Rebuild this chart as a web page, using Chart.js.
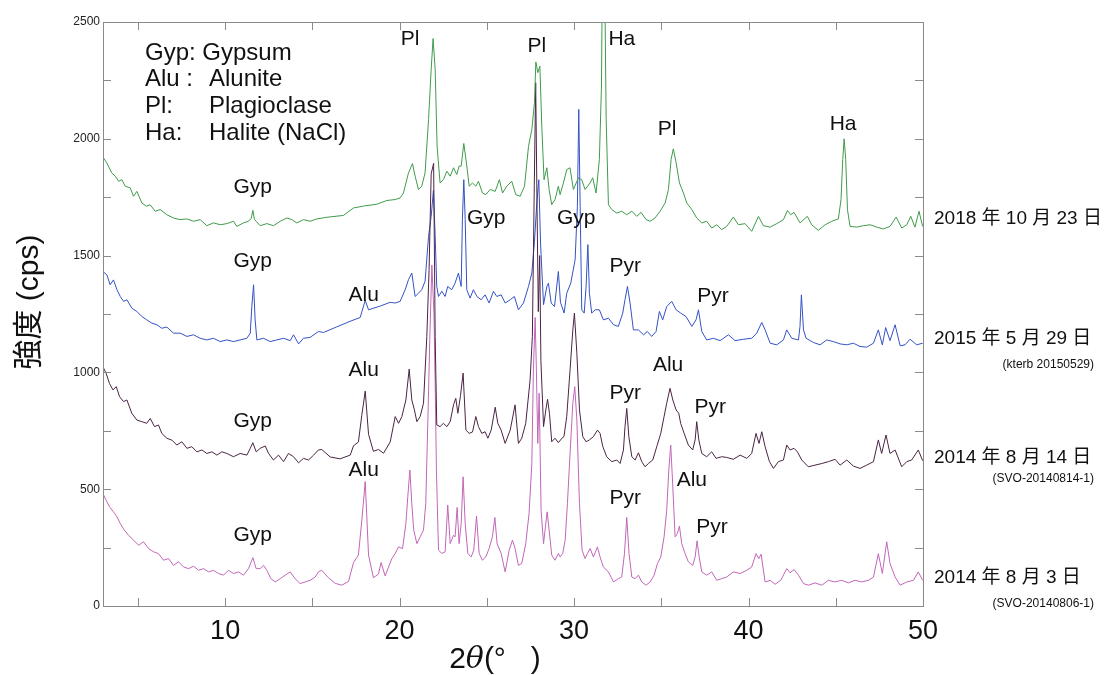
<!DOCTYPE html>
<html>
<head>
<meta charset="utf-8">
<script src="https://cdn.jsdelivr.net/npm/chart.js@4.4.1/dist/chart.umd.min.js"></script>
<style>
  html, body { margin: 0; padding: 0; background: #fff; }
  #wrap { width: 1116px; height: 675px; }
</style>
</head>
<body>
<div id="wrap"><canvas id="xrd" width="1116" height="675"></canvas></div>
<script>
  // 2018-10-23 (green)
  const x2018 = [3.03, 3.22, 3.5, 3.7, 3.9, 4.08, 4.27, 4.56, 4.75, 4.94, 5.23, 5.5, 5.7, 5.99, 6.28, 6.66, 7.04, 7.42, 7.8, 8.19,
    8.57, 8.95, 9.33, 9.72, 10.1, 10.48, 10.67, 11.05, 11.34, 11.5, 11.59, 11.68, 11.78, 12.01, 12.39, 12.77, 13.16, 13.54, 13.82, 14.11,
    14.49, 14.87, 15.26, 15.83, 16.78, 17.36, 17.93, 18.7, 19.27, 19.75, 20.03, 20.22, 20.51, 20.74, 20.89, 21.08, 21.27, 21.46, 21.66, 21.81,
    21.92, 22.04, 22.15, 22.32, 22.51, 22.71, 22.9, 23.09, 23.28, 23.41, 23.53, 23.68, 23.83, 23.99, 24.18, 24.37, 24.52, 24.75, 24.94, 25.19,
    25.48, 25.72, 25.9, 26.14, 26.43, 26.66, 26.91, 27.16, 27.39, 27.58, 27.73, 27.81, 27.92, 28.04, 28.15, 28.28, 28.44, 28.57, 28.72, 28.91,
    29.1, 29.2, 29.39, 29.58, 29.77, 29.96, 30.25, 30.44, 30.63, 30.92, 31.07, 31.26, 31.45, 31.57, 31.65, 31.72, 31.84, 31.97, 32.16, 32.45,
    32.73, 33.02, 33.31, 33.59, 33.84, 34.13, 34.36, 34.64, 34.93, 35.22, 35.41, 35.56, 35.69, 35.85, 36.04, 36.27, 36.46, 36.75, 37.03, 37.32,
    37.6, 37.89, 38.18, 38.46, 38.75, 39.13, 39.42, 39.8, 40.18, 40.57, 40.85, 41.24, 41.62, 42.0, 42.23, 42.42, 42.61, 42.95, 43.37, 43.62,
    44.0, 44.39, 44.77, 45.15, 45.3, 45.4, 45.48, 45.57, 45.67, 45.82, 46.2, 46.58, 46.97, 47.35, 47.73, 48.11, 48.46, 48.78, 49.07, 49.3,
    49.54, 49.77, 49.98];
  const y2018 = [1918, 1897, 1854, 1840, 1818, 1825, 1797, 1790, 1754, 1775, 1725, 1711, 1718, 1690, 1697, 1675, 1661, 1654, 1657, 1647,
    1654, 1628, 1640, 1632, 1637, 1647, 1625, 1640, 1647, 1660, 1694, 1655, 1647, 1628, 1637, 1628, 1647, 1661, 1654, 1640,
    1654, 1647, 1657, 1664, 1672, 1704, 1712, 1720, 1736, 1740, 1747, 1768, 1854, 1894, 1840, 1783, 1797, 1854, 2083, 2297,
    2429, 2297, 1968, 1811, 1825, 1861, 1840, 1876, 1847, 1883, 1883, 1980, 1897, 1797, 1811, 1797, 1818, 1768, 1761, 1783,
    1775, 1825, 1768, 1797, 1818, 1761, 1754, 1797, 1968, 2040, 2154, 2329, 2283, 2311, 2054, 1825, 1876, 1783, 1718, 1740,
    1797, 1761, 1811, 1868, 1876, 1783, 1833, 1825, 1783, 1811, 1833, 1768, 1911, 2226, 2950, 2950, 2083, 1718, 1697, 1682,
    1690, 1675, 1690, 1668, 1685, 1654, 1647, 1661, 1690, 1725, 1783, 1911, 1957, 1897, 1811, 1768, 1725, 1697, 1661, 1640,
    1647, 1618, 1632, 1611, 1625, 1665, 1632, 1637, 1604, 1668, 1628, 1622, 1637, 1654, 1693, 1675, 1685, 1640, 1668, 1632,
    1608, 1632, 1647, 1657, 1740, 1911, 2000, 1911, 1697, 1625, 1622, 1628, 1632, 1622, 1614, 1625, 1665, 1618, 1632, 1668,
    1622, 1690, 1625];

  // 2015-05-29 (blue)
  const x2015 = [2.99, 3.22, 3.41, 3.6, 3.8, 3.99, 4.18, 4.37, 4.65, 4.94, 5.23, 5.51, 5.8, 6.09, 6.37, 6.66, 7.04, 7.42, 7.81, 8.19,
    8.57, 8.95, 9.33, 9.72, 10.1, 10.48, 10.86, 11.25, 11.44, 11.53, 11.63, 11.72, 11.82, 12.2, 12.58, 12.96, 13.35, 13.73, 13.92, 14.21,
    14.49, 14.87, 15.35, 15.64, 16.4, 17.17, 17.74, 18.03, 18.22, 18.89, 19.46, 19.75, 20.03, 20.32, 20.51, 20.7, 20.89, 21.08, 21.27, 21.46,
    21.66, 21.81, 21.94, 22.04, 22.13, 22.23, 22.42, 22.61, 22.76, 22.99, 23.18, 23.37, 23.53, 23.6, 23.68, 23.76, 23.85, 24.04, 24.23, 24.43,
    24.67, 24.9, 25.13, 25.38, 25.57, 25.82, 26.05, 26.34, 26.58, 26.81, 27.1, 27.39, 27.58, 27.73, 27.86, 27.98, 28.08, 28.25, 28.44, 28.53,
    28.69, 28.88, 29.1, 29.22, 29.43, 29.58, 29.81, 30.06, 30.19, 30.27, 30.35, 30.44, 30.58, 30.69, 30.79, 30.88, 31.01, 31.21, 31.45, 31.68,
    31.97, 32.26, 32.54, 32.79, 32.92, 33.06, 33.21, 33.4, 33.69, 33.98, 34.2, 34.45, 34.7, 34.89, 35.08, 35.31, 35.6, 35.85, 36.11, 36.42,
    36.75, 36.99, 37.13, 37.32, 37.6, 37.99, 38.37, 38.85, 39.23, 39.71, 40.18, 40.47, 40.76, 40.95, 41.24, 41.62, 42.0, 42.19, 42.48, 42.86,
    42.95, 43.03, 43.15, 43.3, 43.72, 44.1, 44.48, 44.86, 45.25, 45.63, 46.01, 46.39, 46.77, 47.16, 47.44, 47.67, 47.86, 48.11, 48.4, 48.69,
    48.97, 49.26, 49.64, 49.98];
  const y2015 = [1432, 1418, 1375, 1396, 1354, 1325, 1304, 1311, 1275, 1261, 1239, 1225, 1211, 1204, 1189, 1194, 1168, 1168, 1154, 1161,
    1146, 1139, 1146, 1132, 1139, 1132, 1139, 1146, 1168, 1282, 1375, 1225, 1139, 1146, 1132, 1139, 1146, 1136, 1161, 1122,
    1146, 1150, 1175, 1171, 1195, 1219, 1235, 1308, 1268, 1284, 1300, 1297, 1304, 1354, 1397, 1425, 1325, 1339, 1354, 1390,
    1582, 1668, 1780, 1582, 1368, 1325, 1347, 1325, 1368, 1354, 1382, 1425, 1368, 1654, 1825, 1654, 1354, 1318, 1354, 1325,
    1311, 1332, 1297, 1347, 1325, 1332, 1297, 1311, 1325, 1268, 1297, 1368, 1425, 1560, 1720, 1825, 1550, 1290, 1368, 1382,
    1297, 1282, 1432, 1300, 1254, 1339, 1382, 1482, 1711, 2126, 1711, 1268, 1254, 1368, 1547, 1339, 1254, 1268, 1268, 1225,
    1232, 1204, 1197, 1254, 1311, 1368, 1297, 1182, 1182, 1161, 1175, 1154, 1175, 1261, 1225, 1282, 1304, 1268, 1254, 1239,
    1197, 1225, 1268, 1175, 1139, 1146, 1136, 1161, 1136, 1142, 1146, 1168, 1214, 1182, 1125, 1118, 1139, 1182, 1146, 1139,
    1197, 1332, 1182, 1146, 1128, 1118, 1139, 1132, 1122, 1118, 1125, 1111, 1108, 1125, 1182, 1118, 1192, 1136, 1204, 1114,
    1118, 1142, 1118, 1125];

  // 2014-08-14 (dark purple)
  const x20140814 = [2.99, 3.18, 3.37, 3.57, 3.76, 3.95, 4.18, 4.37, 4.65, 4.94, 5.23, 5.51, 5.71, 5.95, 6.18, 6.37, 6.66, 6.95, 7.23, 7.52,
    7.81, 8.09, 8.38, 8.67, 8.95, 9.24, 9.53, 9.81, 10.1, 10.48, 10.86, 11.25, 11.44, 11.59, 11.78, 12.01, 12.3, 12.49, 12.77, 13.06,
    13.35, 13.63, 13.92, 14.21, 14.49, 14.78, 15.07, 15.35, 15.54, 16.02, 16.59, 17.17, 17.36, 17.64, 17.83, 18.03, 18.22, 18.5, 18.79, 19.08,
    19.46, 19.75, 19.94, 20.13, 20.36, 20.55, 20.7, 20.85, 20.99, 21.18, 21.37, 21.56, 21.69, 21.81, 21.95, 22.04, 22.13, 22.32, 22.51, 22.71,
    22.9, 23.09, 23.22, 23.34, 23.49, 23.64, 23.8, 23.99, 24.18, 24.37, 24.52, 24.71, 24.9, 25.06, 25.25, 25.48, 25.63, 25.82, 26.05, 26.34,
    26.62, 26.81, 27.0, 27.23, 27.48, 27.61, 27.72, 27.8, 27.88, 27.95, 28.03, 28.1, 28.25, 28.38, 28.48, 28.59, 28.72, 28.91, 29.1, 29.3,
    29.42, 29.58, 29.77, 29.93, 30.02, 30.16, 30.31, 30.5, 30.69, 30.88, 31.11, 31.34, 31.49, 31.65, 31.87, 32.16, 32.45, 32.64, 32.83, 32.92,
    33.02, 33.14, 33.31, 33.5, 33.69, 33.88, 34.07, 34.26, 34.51, 34.74, 34.97, 35.16, 35.31, 35.5, 35.66, 35.85, 36.0, 36.11, 36.31, 36.55,
    36.8, 36.94, 37.03, 37.15, 37.32, 37.6, 37.89, 38.14, 38.46, 38.75, 39.13, 39.52, 39.9, 40.18, 40.43, 40.6, 40.76, 40.95, 41.2, 41.43,
    41.71, 42.0, 42.19, 42.38, 42.61, 42.8, 43.05, 43.43, 43.81, 44.2, 44.58, 44.96, 45.25, 45.63, 46.01, 46.39, 46.77, 47.16, 47.44, 47.63,
    47.88, 48.11, 48.4, 48.78, 49.07, 49.35, 49.73, 49.98];
  const y20140814 = [1025, 996, 953, 925, 939, 896, 875, 882, 825, 796, 789, 782, 803, 768, 775, 739, 718, 710, 689, 703,
    675, 682, 660, 668, 653, 660, 646, 660, 653, 639, 653, 646, 675, 699, 660, 675, 685, 653, 625, 646,
    618, 653, 639, 613, 632, 625, 646, 668, 670, 638, 630, 646, 686, 702, 815, 920, 735, 662, 670, 654,
    702, 811, 782, 811, 882, 1014, 882, 839, 789, 811, 868, 1154, 1440, 1850, 1895, 1154, 775, 768, 782, 768,
    789, 861, 889, 825, 900, 997, 753, 739, 745, 811, 768, 739, 746, 718, 753, 851, 782, 753, 696, 753,
    861, 696, 718, 782, 968, 1154, 1800, 2240, 1700, 1260, 1500, 1050, 768, 839, 885, 825, 703, 718, 699, 718,
    725, 811, 1011, 1182, 1254, 1082, 839, 725, 703, 711, 725, 753, 739, 682, 639, 618, 625, 610, 668, 768,
    846, 725, 639, 625, 656, 618, 596, 610, 625, 682, 739, 811, 868, 932, 882, 839, 825, 782, 739, 689,
    668, 711, 789, 711, 653, 639, 660, 632, 639, 636, 628, 646, 632, 653, 739, 696, 746, 682, 618, 589,
    618, 625, 689, 668, 675, 660, 625, 596, 603, 610, 618, 628, 603, 625, 599, 589, 603, 618, 711, 653,
    732, 653, 668, 596, 618, 625, 668, 622];

  // 2014-08-03 (magenta)
  const x20140803 = [2.99, 3.18, 3.37, 3.6, 3.8, 3.99, 4.22, 4.46, 4.75, 5.04, 5.32, 5.61, 5.9, 6.18, 6.47, 6.76, 7.04, 7.33, 7.62, 7.9,
    8.19, 8.48, 8.76, 9.05, 9.33, 9.62, 9.91, 10.19, 10.48, 10.77, 11.05, 11.34, 11.59, 11.78, 12.01, 12.2, 12.39, 12.62, 12.87, 13.16,
    13.44, 13.73, 14.01, 14.3, 14.59, 14.87, 15.16, 15.35, 15.54, 15.92, 16.31, 16.69, 17.07, 17.36, 17.64, 17.83, 18.03, 18.22, 18.5, 18.79,
    18.94, 19.17, 19.55, 19.75, 19.94, 20.17, 20.36, 20.47, 20.59, 20.7, 20.81, 20.99, 21.18, 21.37, 21.5, 21.62, 21.73, 21.85, 21.97, 22.05,
    22.11, 22.23, 22.42, 22.61, 22.76, 22.9, 23.09, 23.18, 23.3, 23.41, 23.53, 23.64, 23.76, 23.91, 24.1, 24.25, 24.41, 24.56, 24.75, 24.94,
    25.13, 25.32, 25.46, 25.59, 25.82, 26.05, 26.28, 26.47, 26.62, 26.81, 27.0, 27.23, 27.42, 27.58, 27.67, 27.77, 27.84, 27.92, 28.0, 28.11,
    28.25, 28.36, 28.46, 28.57, 28.72, 28.91, 29.1, 29.2, 29.35, 29.49, 29.62, 29.77, 29.93, 30.04, 30.16, 30.31, 30.46, 30.63, 30.77, 30.92,
    31.11, 31.34, 31.49, 31.68, 31.97, 32.26, 32.54, 32.73, 32.89, 33.02, 33.15, 33.31, 33.5, 33.69, 33.88, 34.13, 34.36, 34.59, 34.78, 34.97,
    35.16, 35.31, 35.43, 35.54, 35.66, 35.79, 35.92, 36.04, 36.17, 36.36, 36.55, 36.8, 36.94, 37.05, 37.17, 37.32, 37.6, 37.89, 38.18, 38.46,
    38.75, 39.13, 39.52, 39.9, 40.18, 40.43, 40.59, 40.72, 40.95, 41.24, 41.52, 41.85, 42.19, 42.38, 42.61, 42.86, 43.15, 43.43, 43.81, 44.2,
    44.58, 44.96, 45.34, 45.72, 46.11, 46.49, 46.87, 47.16, 47.44, 47.67, 47.92, 48.11, 48.4, 48.69, 49.07, 49.45, 49.73, 49.98];
  const y20140803 = [482, 453, 425, 403, 382, 353, 325, 303, 282, 260, 275, 246, 232, 224, 196, 203, 174, 189, 167, 160,
    170, 153, 160, 146, 153, 139, 132, 153, 139, 146, 132, 160, 207, 160, 160, 174, 153, 117, 103, 117,
    132, 146, 117, 96, 103, 110, 124, 146, 153, 121, 97, 89, 105, 186, 218, 363, 533, 218, 121, 137,
    186, 129, 202, 225, 253, 246, 353, 468, 582, 439, 325, 267, 296, 325, 439, 796, 1139, 1460, 1250, 900,
    582, 239, 225, 232, 432, 267, 303, 296, 422, 267, 353, 553, 353, 225, 210, 239, 385, 225, 196, 210,
    246, 296, 379, 267, 225, 146, 239, 282, 246, 174, 182, 267, 396, 610, 1011, 1235, 1011, 696, 911, 410,
    267, 339, 403, 325, 218, 196, 225, 210, 225, 282, 439, 653, 868, 939, 796, 439, 239, 203, 225, 246,
    210, 253, 210, 167, 146, 103, 117, 124, 225, 379, 225, 124, 117, 132, 103, 89, 103, 132, 182, 210,
    296, 410, 582, 689, 510, 296, 310, 342, 267, 225, 189, 174, 210, 279, 210, 146, 132, 146, 110, 117,
    124, 146, 139, 153, 167, 224, 203, 222, 103, 110, 93, 110, 160, 142, 156, 132, 96, 89, 99, 89,
    110, 103, 110, 99, 110, 103, 110, 124, 224, 139, 275, 182, 124, 89, 103, 110, 146, 110];

  const seriesColors = ['#3f9b4a', '#4a2443', '#3452c4', '#c266b8'];

  // peak labels, anchored in data units
  const peakText = ['Gyp', 'Pl', 'Pl', 'Ha', 'Pl', 'Ha',
    'Gyp', 'Alu', 'Gyp', 'Gyp', 'Pyr', 'Pyr',
    'Gyp', 'Alu', 'Pyr', 'Alu', 'Pyr',
    'Gyp', 'Alu', 'Pyr', 'Alu', 'Pyr'];
  const peakX = [11.58, 20.6, 27.87, 32.74, 35.33, 45.42,
    11.58, 17.94, 24.96, 30.12, 32.93, 37.97,
    11.58, 17.94, 32.93, 35.39, 37.8,
    11.58, 17.94, 32.93, 36.75, 37.9];
  const peakY = [1791, 2426, 2397, 2426, 2040, 2061,
    1474, 1332, 1658, 1658, 1453, 1328,
    789, 1011, 912, 1032, 852,
    303, 582, 462, 539, 337];

  const keyAbbr = ['Gyp: Gypsum', 'Alu :', 'Pl:', 'Ha:'];
  const keyName = ['', 'Alunite', 'Plagioclase', 'Halite (NaCl)'];

  const dateLabels = ['2018 年 10 月 23 日', '2015 年 5 月 29 日', '2014 年 8 月 14 日', '2014 年 8 月 3 日'];
  const dateLevel = [1658, 1144, 633, 123];
  const sampleLabels = ['', '(kterb 20150529)', '(SVO-20140814-1)', '(SVO-20140806-1)'];
  const sampleLevel = [0, 1032, 543, 12];

  const FONT = '"Liberation Sans", Arial, "Noto Sans CJK JP", sans-serif';
  const JP_FONT = '"Liberation Sans", Arial, "Noto Sans CJK JP", sans-serif';

  function toPoints(xs, ys) {
    return xs.map((x, i) => ({ x: x, y: ys[i] }));
  }

  // frame, inward ticks, labels and titles
  const decorPlugin = {
    id: 'decor',
    afterDatasetsDraw(chart) {
      const ctx = chart.ctx;
      const a = chart.chartArea;
      const xs = chart.scales.x;
      const ys = chart.scales.y;
      ctx.save();

      ctx.strokeStyle = '#8a8a8a';
      ctx.lineWidth = 1;
      ctx.strokeRect(Math.round(a.left) + 0.5, Math.round(a.top) + 0.5,
        Math.round(a.right - a.left), Math.round(a.bottom - a.top));

      ctx.beginPath();
      xs.ticks.forEach((t) => {
        if (t.value <= xs.min || t.value >= xs.max) return;
        const px = Math.round(xs.getPixelForValue(t.value)) + 0.5;
        ctx.moveTo(px, a.bottom); ctx.lineTo(px, a.bottom - 8);
        ctx.moveTo(px, a.top); ctx.lineTo(px, a.top + 8);
      });
      ys.ticks.forEach((t) => {
        if (t.value <= ys.min || t.value >= ys.max) return;
        const py = Math.round(ys.getPixelForValue(t.value)) + 0.5;
        ctx.moveTo(a.left, py); ctx.lineTo(a.left + 8, py);
        ctx.moveTo(a.right, py); ctx.lineTo(a.right - 8, py);
      });
      ctx.stroke();

      // peak labels
      ctx.fillStyle = '#111';
      ctx.font = '21px ' + FONT;
      ctx.textAlign = 'center';
      ctx.textBaseline = 'middle';
      peakText.forEach((t, i) => {
        ctx.fillText(t, xs.getPixelForValue(peakX[i]), ys.getPixelForValue(peakY[i]));
      });

      // mineral key
      ctx.font = '24px ' + FONT;
      ctx.textAlign = 'left';
      keyAbbr.forEach((t, i) => {
        const py = a.top + 31 + i * 26.7;
        ctx.fillText(t, a.left + 42, py);
        if (keyName[i]) ctx.fillText(keyName[i], a.left + 106, py);
      });

      // sample dates on the right
      ctx.font = '19px ' + JP_FONT;
      dateLabels.forEach((t, i) => {
        ctx.fillText(t, a.right + 11, ys.getPixelForValue(dateLevel[i]));
      });
      ctx.font = '12px ' + FONT;
      ctx.textAlign = 'right';
      sampleLabels.forEach((t, i) => {
        if (t) ctx.fillText(t, a.right + 171, ys.getPixelForValue(sampleLevel[i]));
      });

      // y title
      ctx.save();
      ctx.translate(30, 302);
      ctx.rotate(-Math.PI / 2);
      ctx.textAlign = 'center';
      ctx.font = '30px ' + JP_FONT;
      ctx.fillText('強度 (cps)', 0, 0);
      ctx.restore();

      // x title: 2θ(°  )
      const parts = [['2', '30px ' + FONT], ['θ', 'italic 30px "DejaVu Serif", serif'], ['(°   )', '30px ' + FONT]];
      let total = 0;
      parts.forEach((p) => { ctx.font = p[1]; total += ctx.measureText(p[0]).width; });
      let cx = 495 - total / 2;
      ctx.textAlign = 'left';
      parts.forEach((p) => {
        ctx.font = p[1];
        ctx.fillText(p[0], cx, 660);
        cx += ctx.measureText(p[0]).width;
      });

      ctx.restore();
    }
  };

  const ctx = document.getElementById('xrd').getContext('2d');
  const xrdChart = new Chart(ctx, {
    type: 'line',
    data: {
      datasets: [
        { label: '2018', data: toPoints(x2018, y2018), borderColor: seriesColors[0] },
        { label: '2014-08-14', data: toPoints(x20140814, y20140814), borderColor: seriesColors[1] },
        { label: '2015', data: toPoints(x2015, y2015), borderColor: seriesColors[2] },
        { label: '2014-08-03', data: toPoints(x20140803, y20140803), borderColor: seriesColors[3] }
      ].map((d) => Object.assign(d, { borderWidth: 1, pointRadius: 0, tension: 0, fill: false }))
    },
    options: {
      responsive: false,
      animation: false,
      devicePixelRatio: 1,
      layout: { padding: { left: 0, right: 193, top: 22, bottom: 0 } },
      plugins: {
        legend: { display: false },
        tooltip: { enabled: false }
      },
      scales: {
        x: {
          type: 'linear',
          min: 3,
          max: 50,
          grid: { display: false, drawTicks: false },
          border: { display: false },
          ticks: {
            stepSize: 5,
            includeBounds: false,
            autoSkip: false,
            maxRotation: 0,
            padding: 9,
            color: '#111',
            font: { family: FONT, size: 27 },
            callback: (v) => (v % 10 === 0 ? v : '')
          },
          afterFit: (s) => { s.height = 69; }
        },
        y: {
          min: 0,
          max: 2500,
          grid: { display: false, drawTicks: false },
          border: { display: false },
          ticks: {
            stepSize: 250,
            autoSkip: false,
            padding: 3,
            color: '#222',
            font: { family: FONT, size: 12 },
            callback: (v) => (v % 500 === 0 ? v : '')
          },
          afterFit: (s) => { s.width = 103; }
        }
      }
    },
    plugins: [decorPlugin]
  });
</script>
</body>
</html>
